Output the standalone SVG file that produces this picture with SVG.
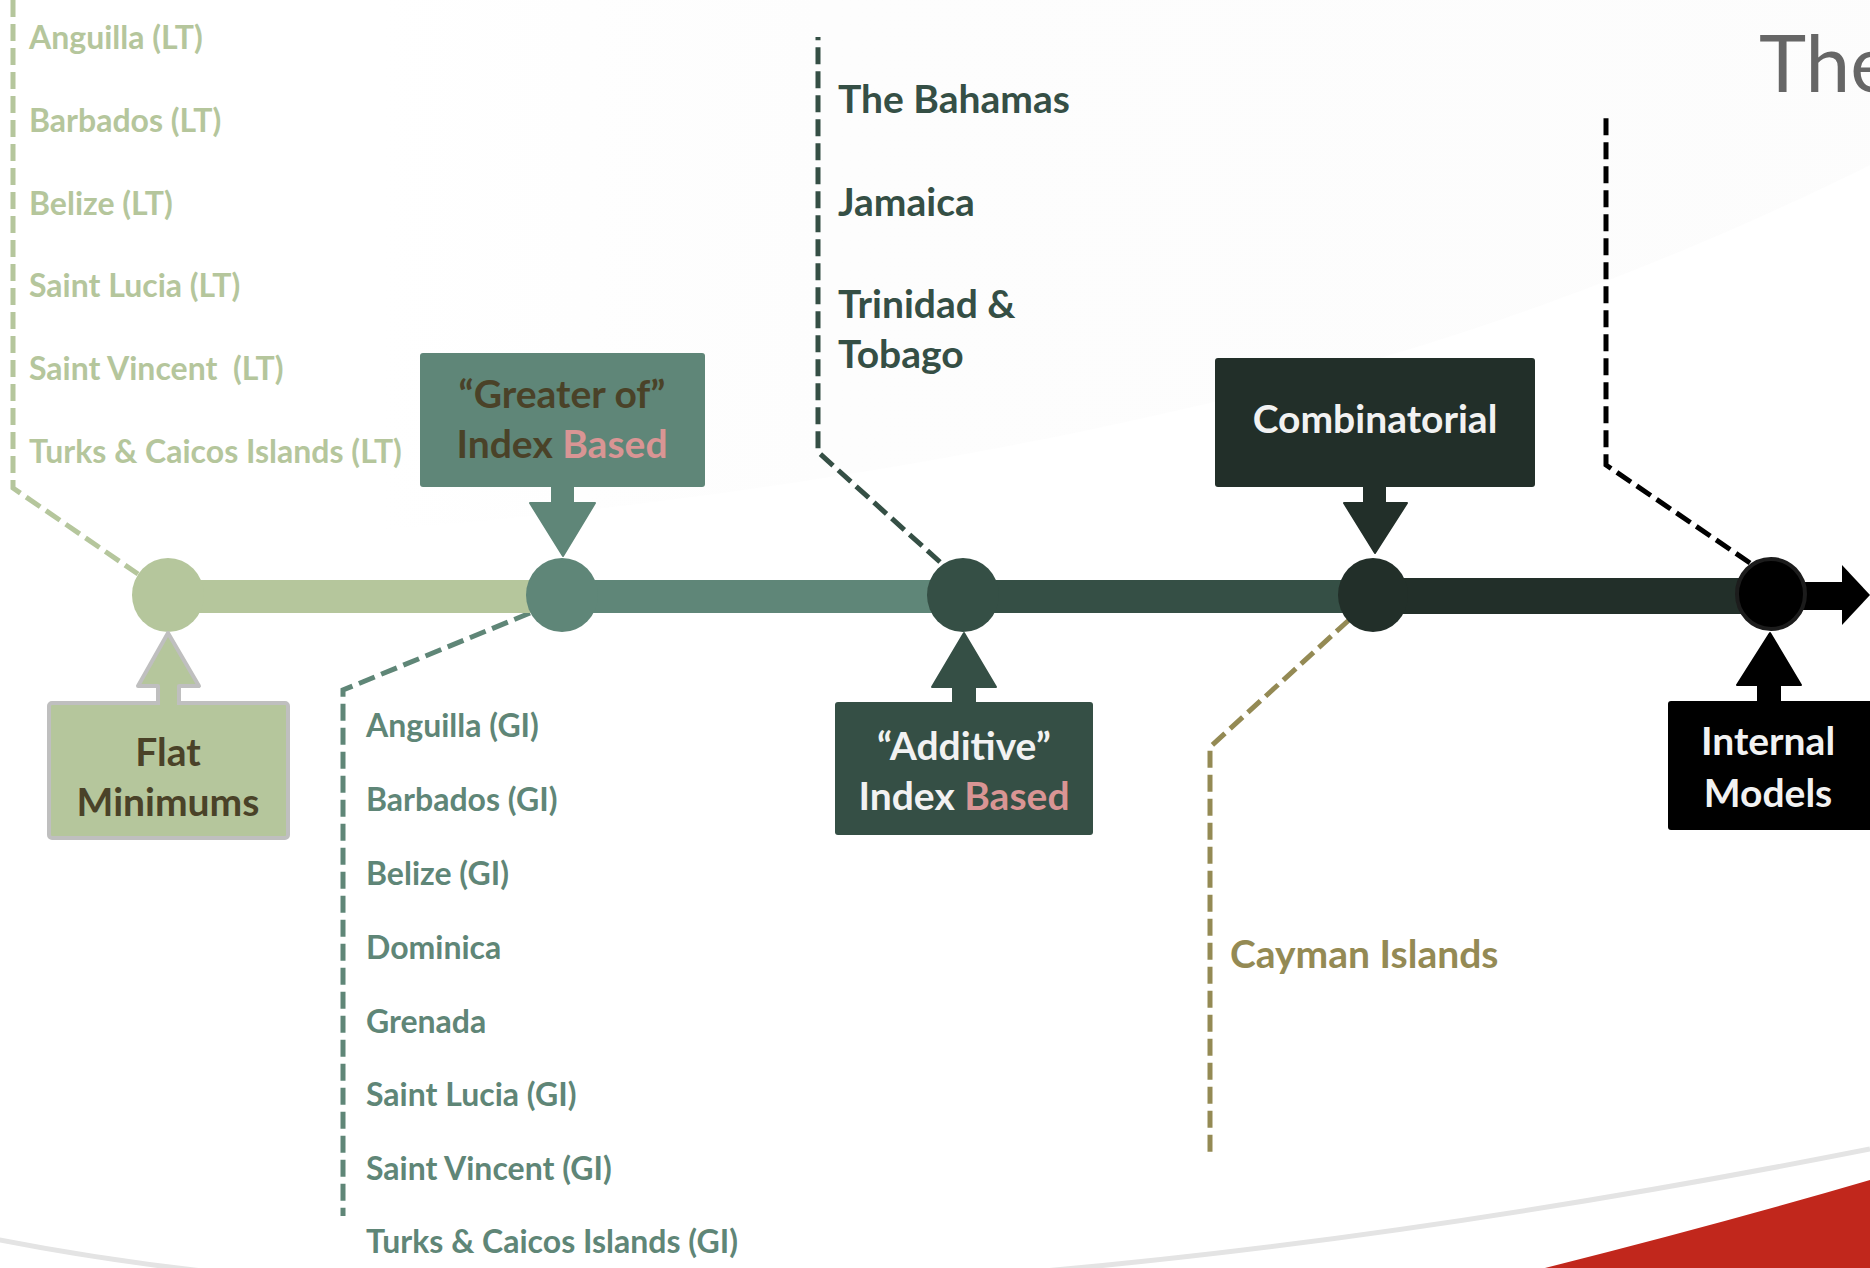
<svg xmlns="http://www.w3.org/2000/svg" width="1870" height="1268" viewBox="0 0 1870 1268">
<defs>
<linearGradient id="swoosh" x1="0" y1="0" x2="1" y2="0">
<stop offset="0" stop-color="#f3f3f3" stop-opacity="0"/>
<stop offset="0.3" stop-color="#f5f5f5" stop-opacity="0.8"/>
<stop offset="1" stop-color="#f4f4f4" stop-opacity="1"/>
</linearGradient>
<style>
text{font-family:Lato,"Liberation Sans",sans-serif;font-weight:700}
.lt{fill:#b5c69c;font-size:32px}
.gi{fill:#5f8677;font-size:32px}
.ad{fill:#354f45;font-size:39px}
.cy{fill:#948a54;font-size:39px}
.lbl{font-size:39px;text-anchor:middle}
.brown{fill:#4a4228}
.white{fill:#f2f2f2}
.pink{fill:#d99594}
.dash{fill:none;stroke-width:5;stroke-dasharray:17 7}
</style>
</defs>
<rect width="1870" height="1268" fill="#ffffff"/>
<path d="M380,530 C700,505 1150,440 1500,320 C1650,268 1780,210 1870,165 L1870,0 L380,0 Z" fill="url(#swoosh)" opacity="0.25"/>
<path d="M-10,1238 Q700,1380 1870,1149" fill="none" stroke="#e4e4e4" stroke-width="5"/>
<path d="M1545,1268 Q1720,1224 1870,1180 L1870,1268 Z" fill="#c1271c"/>
<text x="1759" y="92" style="font-family:Lato,'Liberation Sans',sans-serif;font-weight:400;font-size:80px;fill:#666666">The</text>

<g id="connectors">
<polyline class="dash" stroke="#b5c69c" points="13,0 13,488 138,574"/>
<polyline class="dash" stroke="#5f8677" points="530,613 343,690 343,1216"/>
<polyline class="dash" stroke="#354f45" points="940,562 818,452 818,37"/>
<polyline class="dash" stroke="#948a54" points="1349,620 1210,747 1210,1157"/>
<polyline class="dash" stroke="#000000" points="1750,563 1606,465 1606,115"/>
</g>

<g id="timeline">
<rect x="168" y="580" width="394" height="33" fill="#b5c69c"/>
<rect x="562" y="580" width="402" height="33" fill="#5f8678"/>
<rect x="964" y="580" width="409" height="33" fill="#354f45"/>
<rect x="1373" y="578" width="398" height="36" fill="#222f29"/>
<rect x="1771" y="582" width="74" height="28" fill="#000000"/>
<polygon points="1842,565 1870,595 1842,625" fill="#000000"/>
<ellipse cx="168" cy="595" rx="36" ry="37" fill="#b5c69c"/>
<ellipse cx="562" cy="595" rx="36" ry="37" fill="#5f8678"/>
<ellipse cx="963" cy="595" rx="36" ry="37" fill="#354f45"/>
<ellipse cx="1373" cy="595" rx="35" ry="37" fill="#222f29"/>
<ellipse cx="1771" cy="594" rx="34" ry="35" fill="#000000" stroke="#1c1c1c" stroke-width="4"/>
</g>

<g id="node-flat">
<path d="M158,703 L158,686 L138,686 L168,633 L199,686 L179,686 L179,703" fill="#b5c69c" stroke="#bfbfbf" stroke-width="4" stroke-linejoin="round"/>
<rect x="49" y="703" width="239" height="135" rx="3" fill="#b5c69c" stroke="#bfbfbf" stroke-width="4"/>
<rect x="160" y="700" width="17" height="8" fill="#b5c69c"/>
<text class="lbl brown" x="168" y="766">Flat</text>
<text class="lbl brown" x="168" y="816">Minimums</text>
</g>

<g id="node-greater">
<rect x="420" y="353" width="285" height="134" rx="3" fill="#5f8678"/>
<polygon points="552,486 573,486 573,503 595,503 563,556 530,503 552,503" fill="#5f8678" stroke="#5f8678" stroke-width="2" stroke-linejoin="round"/>
<text class="lbl brown" x="562" y="408">“Greater of”</text>
<text class="lbl" x="562" y="458"><tspan class="brown">Index </tspan><tspan class="pink">Based</tspan></text>
</g>

<g id="node-additive">
<polygon points="953,702 975,702 975,687 996,687 964,633 932,687 953,687" fill="#354f45" stroke="#354f45" stroke-width="2" stroke-linejoin="round"/>
<rect x="835" y="702" width="258" height="133" rx="3" fill="#354f45"/>
<text class="lbl white" x="964" y="760">“Additive”</text>
<text class="lbl" x="964" y="810"><tspan class="white">Index </tspan><tspan class="pink">Based</tspan></text>
</g>

<g id="node-combinatorial">
<rect x="1215" y="358" width="320" height="129" rx="3" fill="#222f29"/>
<polygon points="1364,486 1385,486 1385,503 1407,503 1375,553 1344,503 1364,503" fill="#222f29" stroke="#222f29" stroke-width="2" stroke-linejoin="round"/>
<text class="lbl white" x="1375" y="433">Combinatorial</text>
</g>

<g id="node-internal">
<polygon points="1758,702 1780,702 1780,685 1801,685 1770,633 1737,685 1758,685" fill="#000000" stroke="#000000" stroke-width="2" stroke-linejoin="round"/>
<rect x="1668" y="701" width="205" height="129" rx="3" fill="#000000"/>
<text class="lbl white" x="1768" y="755">Internal</text>
<text class="lbl white" x="1768" y="807">Models</text>
</g>

<g id="list-lt">
<text class="lt" x="29" y="49">Anguilla (LT)</text>
<text class="lt" x="29" y="132">Barbados (LT)</text>
<text class="lt" x="29" y="215">Belize (LT)</text>
<text class="lt" x="29" y="297">Saint Lucia (LT)</text>
<text class="lt" x="29" y="380" xml:space="preserve">Saint Vincent  (LT)</text>
<text class="lt" x="29" y="463">Turks &amp; Caicos Islands (LT)</text>
</g>

<g id="list-gi">
<text class="gi" x="366" y="737">Anguilla (GI)</text>
<text class="gi" x="366" y="811">Barbados (GI)</text>
<text class="gi" x="366" y="885">Belize (GI)</text>
<text class="gi" x="366" y="959">Dominica</text>
<text class="gi" x="366" y="1033">Grenada</text>
<text class="gi" x="366" y="1106">Saint Lucia (GI)</text>
<text class="gi" x="366" y="1180">Saint Vincent (GI)</text>
<text class="gi" x="366" y="1253">Turks &amp; Caicos Islands (GI)</text>
</g>

<g id="list-additive">
<text class="ad" x="838" y="113">The Bahamas</text>
<text class="ad" x="838" y="216">Jamaica</text>
<text class="ad" x="838" y="318">Trinidad &amp;</text>
<text class="ad" x="838" y="368">Tobago</text>
</g>

<g id="list-combinatorial">
<text class="cy" x="1230" y="968">Cayman Islands</text>
</g>
</svg>
